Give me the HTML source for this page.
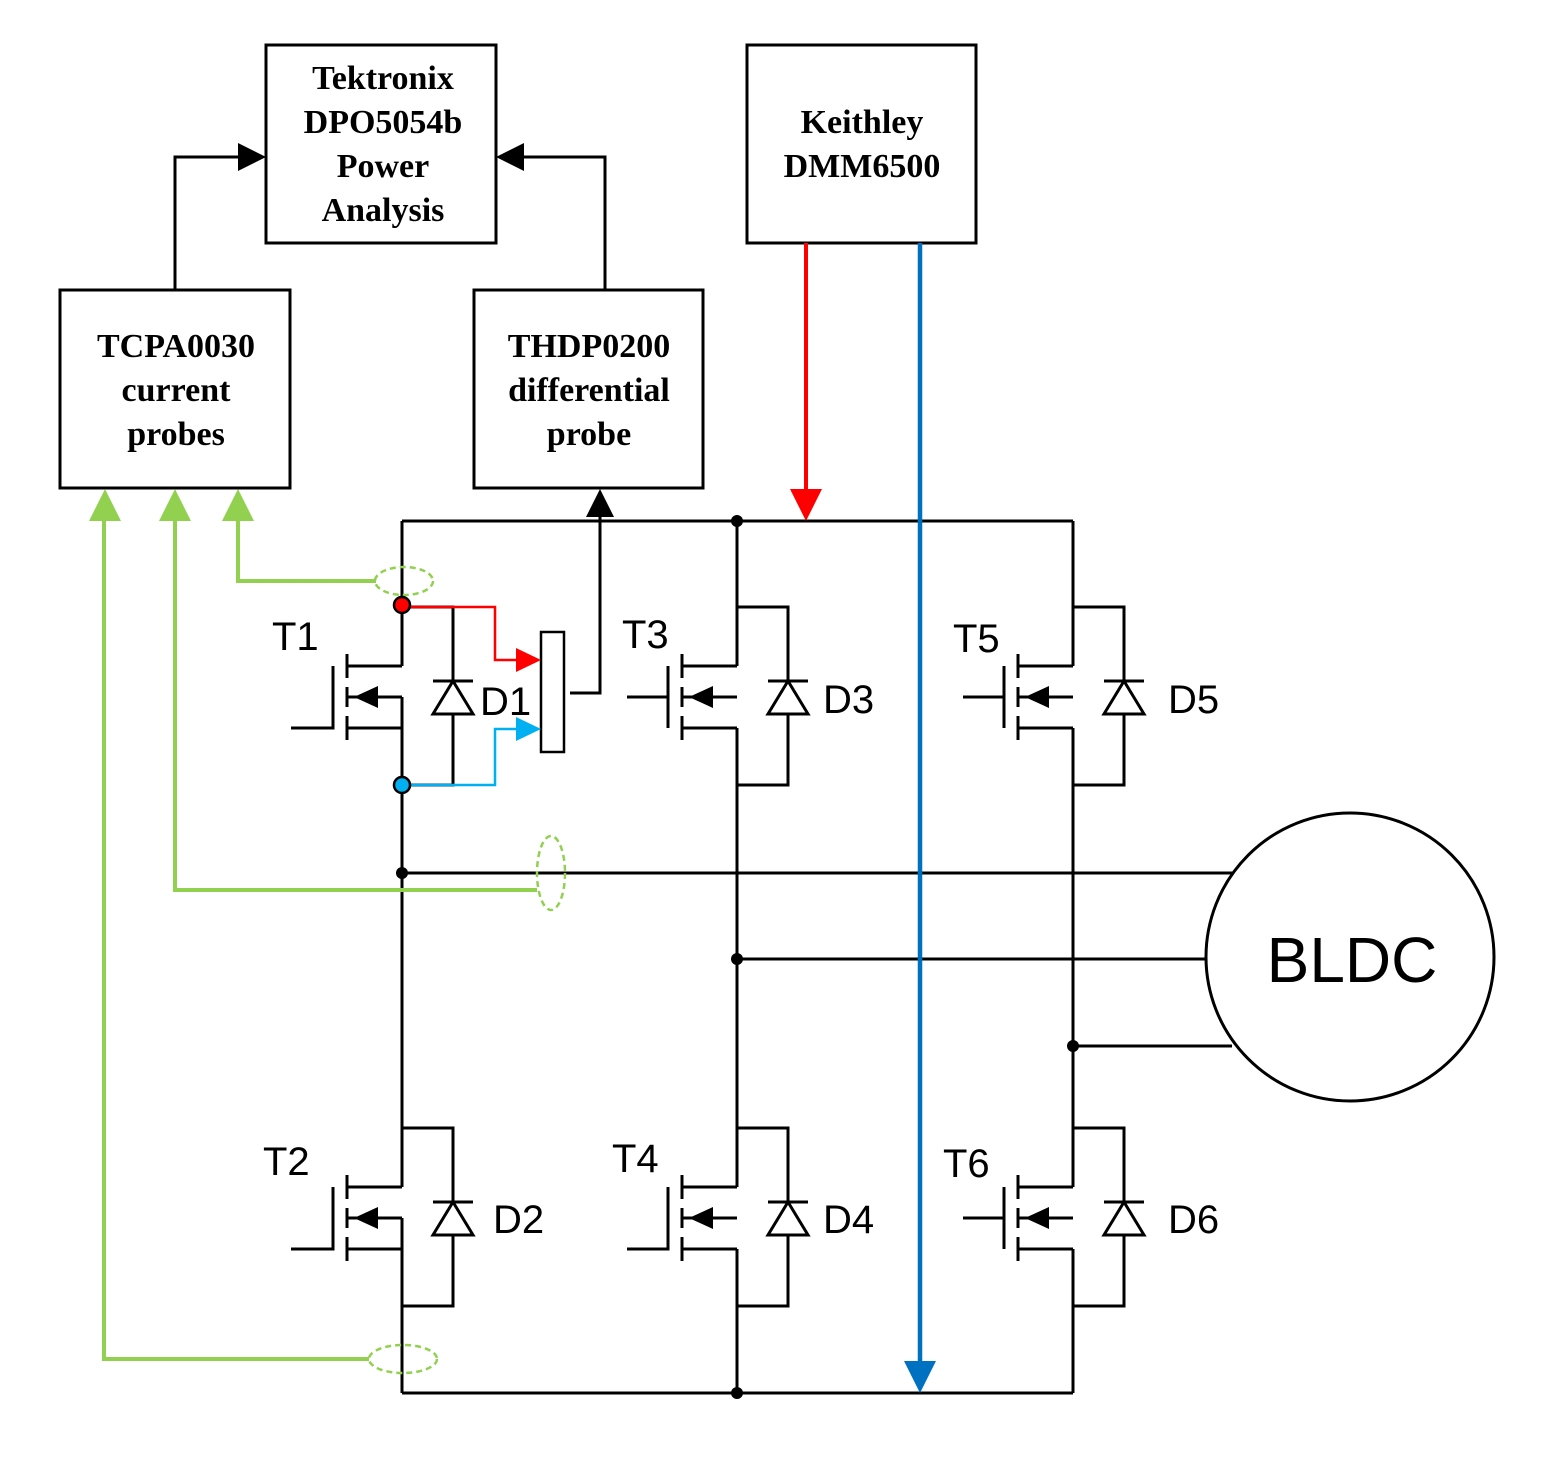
<!DOCTYPE html>
<html><head><meta charset="utf-8"><style>html,body{margin:0;padding:0;background:#fff}svg{display:block}</style></head>
<body>
<svg width="1548" height="1468" viewBox="0 0 1548 1468" xmlns="http://www.w3.org/2000/svg">
<defs>
<g id="fet" fill="none" stroke="#000" stroke-width="3">
  <path d="M0,-31 H-55 M-55,31 H0 M-55,0 H0"/>
  <path d="M-55,-43 V-19 M-55,-10 V10 M-55,19 V43"/>
  <polygon points="-48,0 -24,-11 -24,11" fill="#000" stroke="none"/>
  <path d="M0,-90 H51 V-16 M0,88 H51 V17"/>
  <polygon points="31,17 71,17 51,-16" fill="#fff"/>
  <path d="M31,-16 H71"/>
</g>
</defs>
<g fill="none" stroke="#000" stroke-width="3">
  <!-- rails -->
  <path d="M402,521 H1073 M402,1393 H1073"/>
  <!-- columns -->
  <path d="M402,521 V666 M402,697 V1187 M402,1218 V1393"/>
  <path d="M737,521 V666 M737,728 V1187 M737,1249 V1393"/>
  <path d="M1073,521 V666 M1073,728 V1187 M1073,1249 V1393"/>
  <!-- phases -->
  <path d="M402,873 H1232 M737,959 H1206 M1073,1046 H1232"/>
  <circle cx="1350" cy="957" r="144"/>
  <!-- gates -->
  <path d="M291,728 H333 V666"/>
  <path d="M291,1249 H333 V1187"/>
  <path d="M627,1249 H668 V1187"/>
  <path d="M668,666 V728 M627,697 H668"/>
  <path d="M1004,666 V728 M963,697 H1004"/>
  <path d="M1004,1187 V1249 M963,1218 H1004"/>
  <!-- boxes -->
  <rect x="266" y="45" width="230" height="198"/>
  <rect x="747" y="45" width="229" height="198"/>
  <rect x="60" y="290" width="230" height="198"/>
  <rect x="474" y="290" width="229" height="198"/>
  <!-- connections to Tektronix -->
  <path d="M175,290 V157 H240"/>
  <path d="M605,290 V157 H522"/>
  <!-- probe -->
  <rect x="541" y="632" width="23" height="120" stroke-width="2.5"/>
  <path d="M570,693 H600 V515"/>
</g>
<use href="#fet" x="402" y="697"/>
<use href="#fet" x="737" y="697"/>
<use href="#fet" x="1073" y="697"/>
<use href="#fet" x="402" y="1218"/>
<use href="#fet" x="737" y="1218"/>
<use href="#fet" x="1073" y="1218"/>
<!-- arrowheads black -->
<polygon points="266,157 238,143 238,171" fill="#000"/>
<polygon points="496,157 524,143 524,171" fill="#000"/>
<polygon points="600,489 586,517 614,517" fill="#000"/>
<!-- red/blue probe leads -->
<path d="M402,607 H495 V660 H520" fill="none" stroke="#ff0000" stroke-width="2.5"/>
<polygon points="541,660 516,648 516,672" fill="#ff0000"/>
<path d="M402,785 H495 V729 H520" fill="none" stroke="#00b0f0" stroke-width="2.5"/>
<polygon points="541,729 516,717 516,741" fill="#00b0f0"/>
<!-- Keithley leads -->
<path d="M806,243 V492" stroke="#ff0000" stroke-width="4"/>
<polygon points="806,521 790,489 822,489" fill="#ff0000"/>
<path d="M920,243 V1362" stroke="#0070c0" stroke-width="4.5"/>
<polygon points="920,1393 904,1361 936,1361" fill="#0070c0"/>
<!-- green -->
<g fill="none" stroke="#92d050" stroke-width="4">
  <path d="M376,581 H238 V518"/>
  <path d="M537,890 H175 V518"/>
  <path d="M369,1359 H104 V518"/>
</g>
<g fill="#92d050">
  <polygon points="238,489 222,521 254,521"/>
  <polygon points="175,489 159,521 191,521"/>
  <polygon points="105,489 89,521 121,521"/>
</g>
<g fill="none" stroke="#92d050" stroke-width="2.5" stroke-dasharray="6,4">
  <ellipse cx="404" cy="581" rx="29" ry="14"/>
  <ellipse cx="551" cy="873" rx="14" ry="37"/>
  <ellipse cx="403" cy="1359" rx="34" ry="14"/>
</g>
<!-- dots -->
<g fill="#000">
  <circle cx="737" cy="521" r="6"/><circle cx="737" cy="1393" r="6"/>
  <circle cx="402" cy="873" r="6"/><circle cx="737" cy="959" r="6"/><circle cx="1073" cy="1046" r="6"/>
</g>
<circle cx="402" cy="605" r="8" fill="#ff0000" stroke="#000" stroke-width="2.5"/>
<circle cx="402" cy="785" r="8" fill="#00b0f0" stroke="#000" stroke-width="2.5"/>
<!-- text -->
<g font-family="Liberation Serif, serif" font-weight="bold" font-size="34" text-anchor="middle" fill="#000">
  <text x="383" y="89">Tektronix</text>
  <text x="383" y="133">DPO5054b</text>
  <text x="383" y="177">Power</text>
  <text x="383" y="221">Analysis</text>
  <text x="862" y="133">Keithley</text>
  <text x="862" y="177">DMM6500</text>
  <text x="176" y="357">TCPA0030</text>
  <text x="176" y="401">current</text>
  <text x="176" y="445">probes</text>
  <text x="589" y="357">THDP0200</text>
  <text x="589" y="401">differential</text>
  <text x="589" y="445">probe</text>
</g>
<g font-family="Liberation Sans, sans-serif" font-size="40" fill="#000">
  <text x="272" y="650">T1</text>
  <text x="480" y="715">D1</text>
  <text x="622" y="648">T3</text>
  <text x="823" y="713">D3</text>
  <text x="953" y="652">T5</text>
  <text x="1168" y="713">D5</text>
  <text x="263" y="1175">T2</text>
  <text x="493" y="1233">D2</text>
  <text x="612" y="1172">T4</text>
  <text x="823" y="1233">D4</text>
  <text x="943" y="1177">T6</text>
  <text x="1168" y="1233">D6</text>
  <text x="1352" y="982" font-size="64" text-anchor="middle">BLDC</text>
</g>
</svg>
</body></html>
